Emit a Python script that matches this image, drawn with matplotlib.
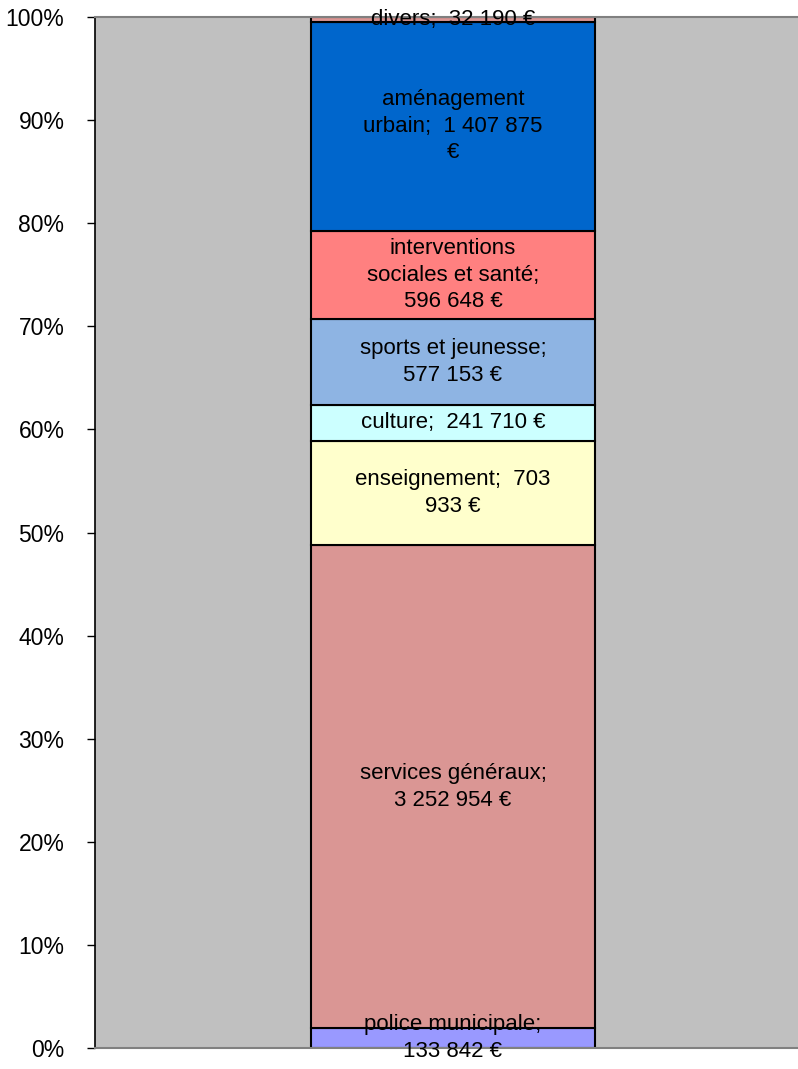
import matplotlib
import matplotlib.pyplot as plt
from matplotlib.ticker import PercentFormatter

matplotlib.rcParams['font.family'] = ['Liberation Sans', 'DejaVu Sans']

categories = ['police municipale', 'services généraux', 'enseignement', 'culture',
              'sports et jeunesse', 'interventions sociales et santé',
              'aménagement urbain', 'divers']
amounts = [133842, 3252954, 703933, 241710, 577153, 596648, 1407875, 32190]
labels = ['police municipale;\n133 842 €', 'services généraux;\n3 252 954 €',
          'enseignement;  703\n933 €', 'culture;  241 710 €',
          'sports et jeunesse;\n577 153 €', 'interventions\nsociales et santé;\n596 648 €',
          'aménagement\nurbain;  1 407 875\n€', 'divers;  32 190 €']
colors = ['#9999FF', '#DA9694', '#FFFFCC', '#CCFFFF', '#8EB4E3', '#FF8080',
          '#0066CC', '#DA9694']

total = sum(amounts)
shares = [a / total for a in amounts]

fig = plt.figure(figsize=(7.98, 10.69), dpi=100)
ax = fig.add_axes([95/798, 21/1069, 716/798, 1031/1069])
ax.set_facecolor('#C0C0C0')

bottom = 0.0
for share, lab, col in zip(shares, labels, colors):
    ax.bar(0, share, width=0.397, bottom=bottom, color=col,
           edgecolor='black', linewidth=1.5)
    ax.text(0, bottom + share/2, lab, ha='center', va='center',
            fontsize=16, color='black', linespacing=1.35)
    bottom += share

ax.set_xlim(-0.5, 0.5)
ax.set_ylim(0, 1)
ax.set_yticks([i/10 for i in range(11)])
ax.yaxis.set_major_formatter(PercentFormatter(1.0, decimals=0))
ax.tick_params(axis='y', direction='out', length=6, width=1, labelsize=16.5, pad=16)
ax.set_xticks([])

ax.spines['left'].set_color('black')
ax.spines['left'].set_linewidth(1.2)
for s in ['top', 'right', 'bottom']:
    ax.spines[s].set_color('#808080')
    ax.spines[s].set_linewidth(1.5)

fig.savefig('out.png')
